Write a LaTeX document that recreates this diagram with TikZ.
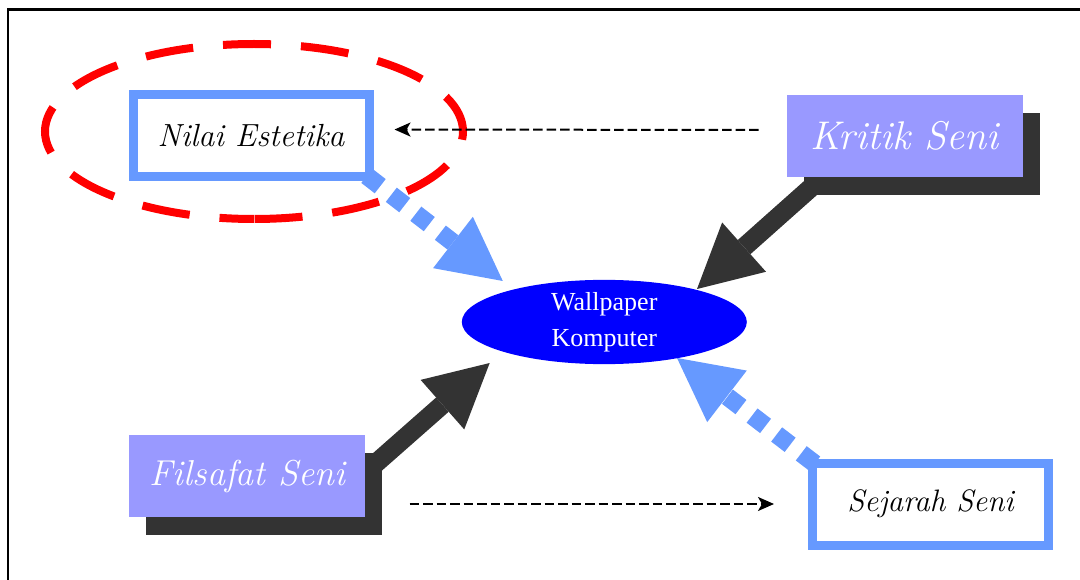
\documentclass[tikz,border=0pt]{standalone}
\usepackage{fontspec}
\newfontfamily\timesfont{Liberation Serif}
\usetikzlibrary{arrows.meta,shapes.geometric,shadows,backgrounds}
\definecolor{boxblue}{HTML}{6699FF}
\definecolor{boxlilac}{HTML}{9999FF}
\definecolor{shadowgray}{HTML}{333333}

\tikzset{
  framebox/.style={draw=boxblue, line width=9pt, fill=white, minimum width=236pt, minimum height=82pt, inner sep=0pt},
  shadebox/.style={fill=boxlilac, text=white, minimum width=236pt, minimum height=82pt, inner sep=0pt,
    general shadow={fill=shadowgray, shadow xshift=17pt, shadow yshift=-18pt}},
  ringline/.style={draw=red, line width=8pt, dash pattern=on 48pt off 30pt},
  wallnode/.style={ellipse, fill=blue, text=white, minimum width=285pt, minimum height=77pt, inner sep=0pt, align=center},
  heavyarrow/.style={draw=shadowgray, line width=19pt, -{Triangle[length=63pt,width=66pt,line width=0pt]}},
  dotarrow/.style={draw=boxblue, line width=18pt, dash pattern=on 17pt off 14pt, shorten <=-8.5pt, -{Triangle[length=63pt,width=65pt,line width=0pt]}},
  thinarrow/.style={line width=2pt, dash pattern=on 9.5pt off 4pt, -{Stealth[length=16pt,width=14pt,inset=4pt]}}
}

\begin{document}
\begin{tikzpicture}[x=1pt,y=-1pt]
			%%%%% FRAME %%%%%
			\useasboundingbox (0,0) rectangle (1080,580);
			\clip (0,0) rectangle (1080,580);
			\draw[line width=2.5pt] (8,9.5) rectangle (1100,600);
			
			%%%%% BOXES %%%%%
			\node[framebox, font=\fontsize{32}{36}\selectfont\itshape] (nilai) at (251,135.5) {Nilai Estetika};
			\node[shadebox, font=\fontsize{40}{44}\selectfont\itshape] (kritik) at (904.5,136) {Kritik Seni};
			\node[shadebox, font=\fontsize{36}{40}\selectfont\itshape] (filsafat) at (247.4,476) {Filsafat Seni};
			\node[framebox, font=\fontsize{31}{36}\selectfont\itshape] (sejarah) at (930.5,504) {Sejarah Seni};
			\node[wallnode, font=\timesfont\fontsize{26}{36}\selectfont] (wallpaper) at (604.3,322) {Wallpaper\\Komputer};
			
			% red ring round Nilai Estetika, two halves from the top
			\coordinate (ringtop) at (254,44);
			\draw[ringline, dash phase=31pt] (ringtop) arc[start angle=-90, end angle=90, x radius=209, y radius=87.5];
			\draw[ringline, dash phase=17pt] (ringtop) arc[start angle=270, end angle=90, x radius=209, y radius=87.5];
			
			\coordinate (nilaitip) at (502.8,281);
			\coordinate (kritiktip) at (697,289);
			\coordinate (filsafattip) at (489.7,363);
			\coordinate (sejarahtip) at (677,358);
			
			%%%%% ARROWS %%%%%
			\begin{scope}[on background layer]
				\draw[dotarrow] (nilai.south east) -- (nilaitip);
				\draw[dotarrow] (sejarah.north west) -- (sejarahtip);
				\draw[heavyarrow] ([shift={(42,-5)}]kritik.south west) -- (kritiktip);
				\draw[heavyarrow] ([shift={(-11,6)}]filsafat.east) -- (filsafattip);
			\end{scope}
			
			\draw[thinarrow, shorten <=27.7pt, shorten >=21pt] ([yshift=6pt]kritik.west) -- ([yshift=6pt]nilai.east);
			\draw[thinarrow, shorten <=44pt, shorten >=34pt] (filsafat.east |- sejarah.west) -- (sejarah.west);
\end{tikzpicture}
\end{document}
